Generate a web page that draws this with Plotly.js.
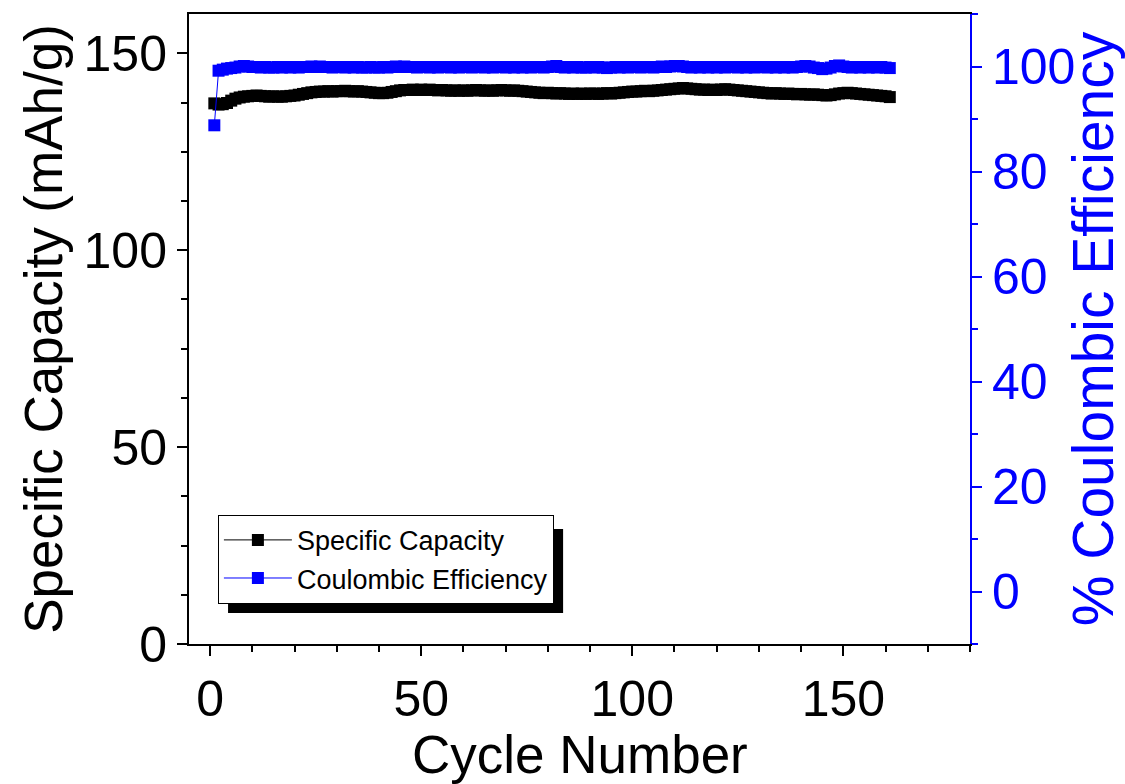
<!DOCTYPE html>
<html>
<head>
<meta charset="utf-8">
<script src="https://cdn.plot.ly/plotly-3.0.1.min.js"></script>
<style>html,body{margin:0;padding:0;background:#fff;}#chart{width:1125px;height:784px;}</style>
</head>
<body>
<div id="chart"></div>
<script>
const cycles = [1,2,3,4,5,6,7,8,9,10,11,12,13,14,15,16,17,18,19,20,
21,22,23,24,25,26,27,28,29,30,31,32,33,34,35,36,37,38,39,40,
41,42,43,44,45,46,47,48,49,50,51,52,53,54,55,56,57,58,59,60,
61,62,63,64,65,66,67,68,69,70,71,72,73,74,75,76,77,78,79,80,
81,82,83,84,85,86,87,88,89,90,91,92,93,94,95,96,97,98,99,100,
101,102,103,104,105,106,107,108,109,110,111,112,113,114,115,116,117,118,119,120,
121,122,123,124,125,126,127,128,129,130,131,132,133,134,135,136,137,138,139,140,
141,142,143,144,145,146,147,148,149,150,151,152,153,154,155,156,157,158,159,160,161];

const specificCapacity = [
137.3,137.0,137.1,137.4,138.0,138.5,138.8,139.0,139.1,139.2,
139.3,139.2,139.1,139.0,139.1,139.0,139.0,139.1,139.2,139.3,
139.5,139.7,139.9,140.1,140.2,140.3,140.3,140.4,140.3,140.4,
140.4,140.5,140.4,140.3,140.4,140.3,140.2,140.1,140.0,139.9,
139.9,140.0,140.2,140.4,140.6,140.7,140.7,140.8,140.7,140.8,
140.7,140.8,140.7,140.6,140.7,140.6,140.5,140.6,140.5,140.6,
140.5,140.6,140.7,140.6,140.5,140.6,140.5,140.6,140.7,140.6,
140.5,140.6,140.5,140.4,140.3,140.2,140.1,140.0,139.9,140.0,
139.9,139.8,139.9,139.8,139.7,139.8,139.7,139.8,139.7,139.8,
139.8,139.7,139.8,139.9,139.8,139.9,140.0,140.1,140.2,140.3,
140.3,140.4,140.5,140.4,140.5,140.6,140.7,140.8,140.9,141.0,
141.1,141.2,141.1,141.0,140.9,140.8,140.8,140.7,140.8,140.7,
140.8,140.9,140.8,140.7,140.6,140.5,140.4,140.3,140.2,140.1,
140.0,139.9,139.8,139.9,139.8,139.7,139.8,139.7,139.6,139.7,
139.6,139.5,139.6,139.5,139.4,139.3,139.4,139.6,139.8,139.9,
140.0,139.9,139.8,139.7,139.6,139.5,139.4,139.3,139.2,139.1,138.9];

const coulombicEfficiency = [
88.8,99.2,99.4,99.6,99.7,99.8,100.0,100.1,100.0,99.9,
99.9,99.8,99.9,99.8,99.8,99.9,99.8,99.9,99.8,99.9,
99.8,99.9,99.9,100.0,99.9,100.0,99.9,99.9,99.8,99.9,
99.9,99.8,99.9,99.8,99.9,99.8,99.8,99.9,99.8,99.8,
99.9,99.8,99.9,100.0,99.9,100.0,99.9,99.9,99.8,99.9,
99.9,99.8,99.9,99.8,99.9,99.9,99.8,99.9,99.8,99.9,
99.9,99.8,99.9,99.9,99.8,99.9,99.8,99.9,99.9,99.8,
99.9,99.8,99.9,99.8,99.9,99.8,99.9,99.9,99.8,99.9,
100.0,100.1,99.9,99.8,99.9,99.8,99.9,99.8,99.8,99.9,
99.8,99.9,99.8,99.7,99.8,99.9,99.8,99.9,99.8,99.9,
99.9,99.8,99.9,99.9,99.8,99.9,100.0,99.9,100.0,100.1,
100.1,100.0,99.9,99.8,99.9,99.8,99.9,99.8,99.9,99.8,
99.9,99.8,99.9,99.9,99.8,99.9,99.8,99.9,99.8,99.9,
99.9,99.8,99.9,99.8,99.9,99.8,99.9,99.8,99.9,100.0,
100.1,100.0,99.8,99.7,99.5,99.6,99.8,100.1,100.2,100.0,
99.9,99.8,99.9,99.8,99.9,99.8,99.9,99.8,99.9,99.8,99.7];

const seriesNames = ['Specific Capacity', 'Coulombic Efficiency'];
const axisTitles = {x: 'Cycle Number', y: 'Specific Capacity (mAh/g)', y2: '% Coulombic Efficiency'};

const FONT = 'Liberation Sans, Arial, sans-serif';
const BLUE = '#0000FF';

const traces = [
  {x: cycles, y: specificCapacity, name: seriesNames[0], type: 'scatter', mode: 'lines+markers',
   line: {color: '#000000', width: 1}, marker: {symbol: 'square', size: 12, color: '#000000'}, yaxis: 'y'},
  {x: cycles, y: coulombicEfficiency, name: seriesNames[1], type: 'scatter', mode: 'lines+markers',
   line: {color: BLUE, width: 1}, marker: {symbol: 'square', size: 12, color: BLUE}, yaxis: 'y2'}
];

const tickCommon = {ticks: 'outside', ticklen: 10, tickwidth: 2, showgrid: false, zeroline: false, showline: true, linewidth: 2};

const layout = {
  width: 1125, height: 784,
  margin: {l: 189, r: 155, t: 14, b: 140, pad: 0},
  paper_bgcolor: '#ffffff', plot_bgcolor: '#ffffff',
  font: {family: FONT, color: '#000000'},
  showlegend: true,
  legend: {x: 0.037, y: 0.205, xanchor: 'left', yanchor: 'top', bgcolor: '#ffffff', bordercolor: '#000000', borderwidth: 1,
           font: {family: FONT, size: 27, color: '#000000'}, itemwidth: 68, tracegroupgap: 0},
  xaxis: Object.assign({}, tickCommon, {
    range: [-5, 180], tick0: 0, dtick: 50, linecolor: '#000000', tickcolor: '#000000', mirror: true,
    tickfont: {family: FONT, size: 50, color: '#000000'},
    minor: {dtick: 10, tick0: 0, ticks: 'outside', ticklen: 6, tickwidth: 2, tickcolor: '#000000', showgrid: false}
  }),
  yaxis: Object.assign({}, tickCommon, {
    range: [0, 160], tick0: 0, dtick: 50, linecolor: '#000000', tickcolor: '#000000',
    tickfont: {family: FONT, size: 50, color: '#000000'},
    minor: {dtick: 12.5, tick0: 0, ticks: 'outside', ticklen: 6, tickwidth: 2, tickcolor: '#000000', showgrid: false},
    title: {text: axisTitles.y, font: {family: FONT, size: 53, color: '#000000'}, standoff: 4}
  }),
  yaxis2: Object.assign({}, tickCommon, {
    overlaying: 'y', side: 'right', anchor: 'x',
    range: [-10, 110], tick0: 0, dtick: 20, linecolor: BLUE, tickcolor: BLUE,
    tickfont: {family: FONT, size: 50, color: BLUE},
    minor: {dtick: 10, tick0: 0, ticks: 'outside', ticklen: 6, tickwidth: 2, tickcolor: BLUE, showgrid: false},
    title: {text: axisTitles.y2, font: {family: FONT, size: 57, color: BLUE}, standoff: 6}
  }),
  annotations: [
    {text: axisTitles.x, xref: 'paper', yref: 'paper', x: 0.5006, y: -0.176, xanchor: 'center', yanchor: 'middle',
     showarrow: false, font: {family: FONT, size: 53, color: '#000000'}}
  ],
  shapes: [
    {type: 'rect', xref: 'paper', yref: 'paper', x0: 0.0500, x1: 0.479, y0: 0.0492, y1: 0.1825,
     fillcolor: '#000000', line: {width: 0}, layer: 'above'}
  ]
};

Plotly.newPlot('chart', traces, layout, {displayModeBar: false, staticPlot: true});
</script>
</body>
</html>
